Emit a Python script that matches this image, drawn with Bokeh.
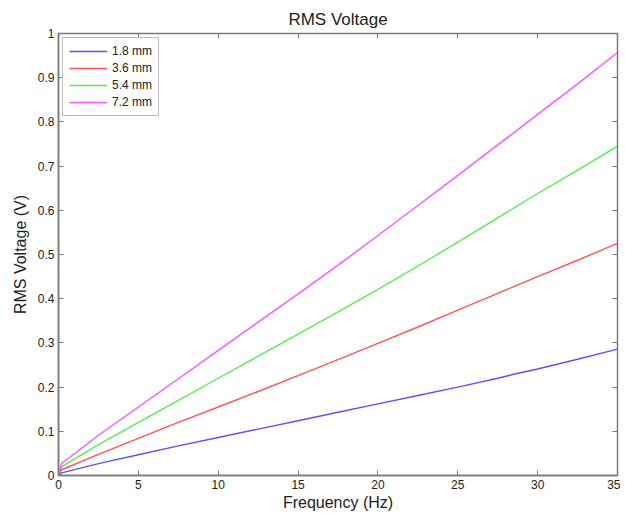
from bokeh.plotting import figure
from bokeh.models import Range1d, LinearAxis, FixedTicker, Legend, LegendItem
from bokeh.embed import file_html
from bokeh.resources import INLINE

freq_1 = [0, 0.2, 2.5, 5, 7.5, 10, 12.5, 15, 17.5, 20, 22.5, 25, 27.5, 28.5, 30, 32.5, 35]
v_18 = [0.002, 0.006, 0.027, 0.047, 0.067, 0.086, 0.105, 0.124, 0.143, 0.162, 0.181, 0.200, 0.220, 0.229, 0.241, 0.263, 0.286]
freq = [0, 0.2, 2.5, 5, 7.5, 10, 12.5, 15, 17.5, 20, 22.5, 25, 27.5, 30, 32.5, 35]
v_36 = [0.002, 0.013, 0.048, 0.084, 0.120, 0.155, 0.190, 0.226, 0.262, 0.299, 0.336, 0.374, 0.412, 0.450, 0.487, 0.525]
v_54 = [0.003, 0.020, 0.070, 0.120, 0.170, 0.220, 0.270, 0.320, 0.370, 0.421, 0.474, 0.528, 0.583, 0.638, 0.691, 0.745]
v_72 = [0.004, 0.027, 0.091, 0.155, 0.219, 0.283, 0.347, 0.411, 0.476, 0.543, 0.611, 0.679, 0.748, 0.817, 0.886, 0.957]
labels = ["1.8 mm", "3.6 mm", "5.4 mm", "7.2 mm"]
x_ticks = [0, 5, 10, 15, 20, 25, 30, 35]
y_ticks = [0, 0.1, 0.2, 0.3, 0.4, 0.5, 0.6, 0.7, 0.8, 0.9, 1]
y_tick_labels = ["0", "0.1", "0.2", "0.3", "0.4", "0.5", "0.6", "0.7", "0.8", "0.9", "1"]

FONT = "Liberation Sans"
AX = "#7a7a7a"
TXT = "#222222"

p = figure(width=620, height=513, output_backend="svg", toolbar_location=None,
           x_range=Range1d(0, 35), y_range=Range1d(0, 1),
           min_border_left=58, min_border_right=3, min_border_top=33, min_border_bottom=38)
p.title.text = "RMS Voltage"
p.title.align = "center"
p.title.text_font = FONT
p.title.text_font_size = "17px"
p.title.text_font_style = "normal"
p.title.text_color = TXT
p.title.offset = 0
p.grid.visible = False
p.outline_line_color = AX
p.outline_line_width = 1.5

for ax in [p.xaxis[0], p.yaxis[0]]:
    ax.axis_line_color = AX
    ax.axis_line_width = 1.5
    ax.major_tick_line_color = AX
    ax.major_tick_in = 5
    ax.major_tick_out = 0
    ax.minor_tick_line_color = None
    ax.major_label_text_font = FONT
    ax.major_label_text_font_size = "12px"
    ax.major_label_text_color = TXT
    ax.axis_label_text_font = FONT
    ax.axis_label_text_font_size = "16px"
    ax.axis_label_text_font_style = "normal"
    ax.axis_label_text_color = TXT

p.xaxis[0].ticker = FixedTicker(ticks=x_ticks)
p.yaxis[0].ticker = FixedTicker(ticks=y_ticks)
p.yaxis[0].major_label_overrides = {t: s for t, s in zip(y_ticks, y_tick_labels)}
p.xaxis[0].axis_label = "Frequency (Hz)"
p.yaxis[0].axis_label = "RMS Voltage (V)"
p.xaxis[0].major_label_standoff = 4
p.xaxis[0].axis_label_standoff = 2
p.yaxis[0].major_label_standoff = 4
p.yaxis[0].axis_label_standoff = 6

top = LinearAxis(ticker=FixedTicker(ticks=x_ticks), axis_line_color=AX, major_tick_line_color=AX,
                 major_tick_in=5, major_tick_out=0, minor_tick_line_color=None, major_label_standoff=0,
                 major_label_overrides={t: "" for t in x_ticks})
right = LinearAxis(ticker=FixedTicker(ticks=y_ticks), axis_line_color=AX, major_tick_line_color=AX,
                   major_tick_in=5, major_tick_out=0, minor_tick_line_color=None, major_label_standoff=0,
                   major_label_overrides={t: "" for t in y_ticks})
p.add_layout(top, "above")
p.add_layout(right, "right")

colors = ["#5555ff", "#ff5555", "#55ee55", "#ff55ff"]
r1 = p.line(freq_1, v_18, line_color=colors[0], line_width=1.4)
r2 = p.line(freq, v_36, line_color=colors[1], line_width=1.4)
r3 = p.line(freq, v_54, line_color=colors[2], line_width=1.4)
r4 = p.line(freq, v_72, line_color=colors[3], line_width=1.4)

legend = Legend(items=[LegendItem(label=l, renderers=[r]) for l, r in zip(labels, [r1, r2, r3, r4])],
                location="top_left")
legend.label_text_font = FONT
legend.label_text_font_size = "12px"
legend.label_text_color = TXT
legend.glyph_width = 38
legend.glyph_height = 14
legend.label_height = 14
legend.spacing = 3
legend.padding = 6
legend.margin = 4
legend.label_standoff = 5
legend.border_line_color = AX
legend.border_line_width = 1.5
p.add_layout(legend)

open("out.html", "w").write(file_html(p, INLINE))
